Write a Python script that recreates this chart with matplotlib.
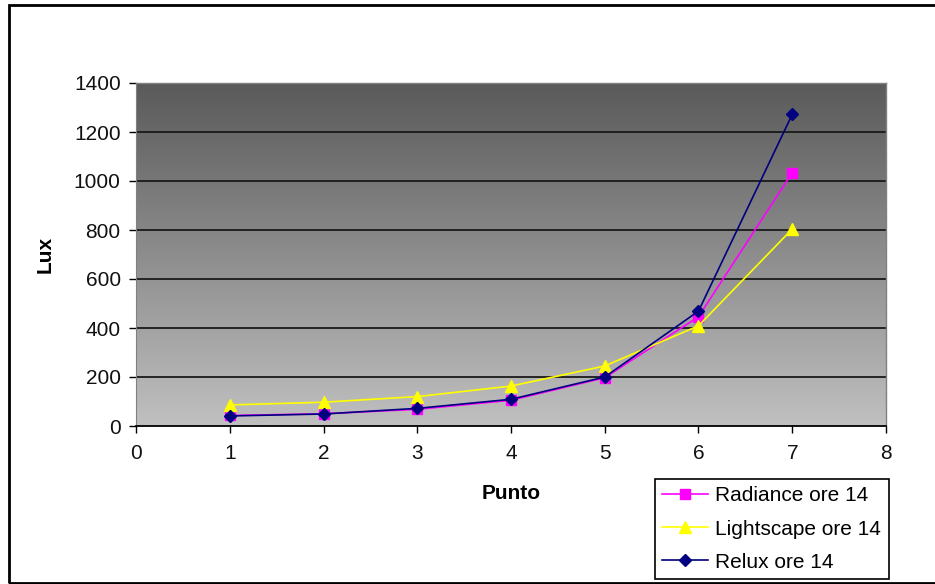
import matplotlib
matplotlib.use("Agg")
import matplotlib.pyplot as plt
import numpy as np
from matplotlib.patches import Rectangle
from matplotlib.colors import LinearSegmentedColormap

plt.rcParams['font.family'] = ['Liberation Sans', 'DejaVu Sans']

punti = [1, 2, 3, 4, 5, 6, 7]
radiance = [43, 50, 68, 105, 197, 446, 1034]
lightscape = [86, 97, 120, 163, 245, 409, 804]
relux = [41, 49, 72, 109, 200, 469, 1272]

W, H = 935, 584
fig = plt.figure(figsize=(W / 100, H / 100), dpi=100)
fig.patch.set_facecolor('white')

# outer chart frame
fig.patches.append(Rectangle((9 / W, 1 - 583 / H), 1.2, (583 - 5) / H,
                             transform=fig.transFigure, fill=False,
                             edgecolor='black', linewidth=2, zorder=0))

left, right, top, bottom = 136, 886, 83, 426
ax = fig.add_axes([left / W, 1 - bottom / H, (right - left) / W, (bottom - top) / H])

# gradient background
grad = np.linspace(0, 1, 256).reshape(-1, 1)
cmap = LinearSegmentedColormap.from_list('g', ['#c0c0c0', '#5a5a5a'])
ax.imshow(grad, aspect='auto', cmap=cmap, origin='lower',
          extent=[0, 8, 0, 1400], zorder=0)

ax.set_xlim(0, 8)
ax.set_ylim(0, 1400)
ax.set_xticks(range(0, 9))
ax.set_yticks(range(0, 1401, 200))
for yv in range(200, 1401, 200):
    ax.axhline(yv, color='#1a1a1a', linewidth=1.3, zorder=1)

ax.plot(punti, radiance, color='#ff00ff', marker='s', markersize=7,
        linewidth=1.2, label='Radiance ore 14', zorder=3)
ax.plot(punti, lightscape, color='#ffff00', marker='^', markersize=9,
        linewidth=1.2, label='Lightscape ore 14', zorder=4)
ax.plot(punti, relux, color='#000080', marker='D', markersize=6,
        linewidth=1.2, label='Relux ore 14', zorder=5)

for s in ['top', 'right']:
    ax.spines[s].set_color('#808080')
    ax.spines[s].set_linewidth(1)
ax.spines['left'].set_color('#808080')
ax.spines['bottom'].set_color('black')
ax.spines['bottom'].set_linewidth(1.3)
ax.tick_params(axis='both', direction='out', length=5, width=1,
               labelsize=15, colors='black', labelcolor='#111111')
ax.tick_params(axis='x', pad=8)
ax.tick_params(axis='y', pad=6)

ax.set_xlabel('Punto', fontsize=15, fontweight='bold', labelpad=15)
ax.set_ylabel('Lux', fontsize=15, fontweight='bold', labelpad=14)

leg = fig.legend(loc='lower left', bbox_to_anchor=(655 / W, 1 - 579 / H),
                 bbox_transform=fig.transFigure, fontsize=15,
                 frameon=True, fancybox=False, edgecolor='black',
                 framealpha=1, borderpad=0.35, labelspacing=0.68,
                 handlelength=2.2, handletextpad=0.35, borderaxespad=0)
leg.get_frame().set_linewidth(1.2)

fig.savefig('out.png', dpi=100)
